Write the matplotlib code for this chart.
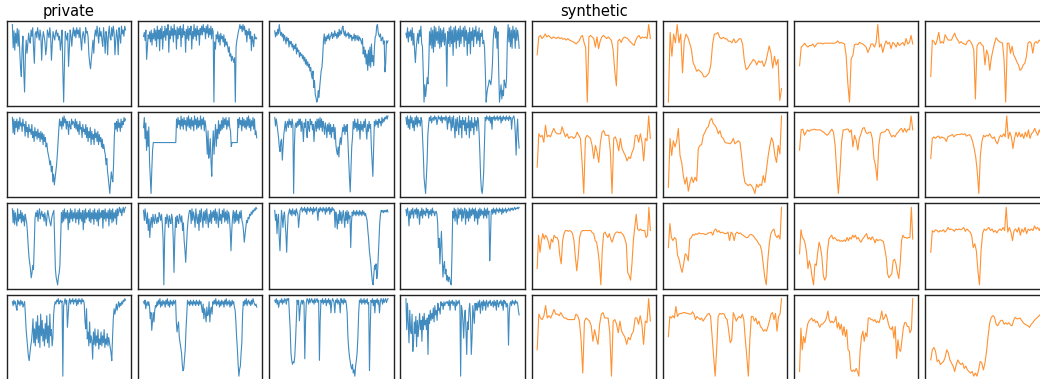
import matplotlib
matplotlib.use("Agg")
import matplotlib.pyplot as plt

# ---- data (0 = panel minimum, 100 = panel maximum) ----
# private series (blue), rows 1-4, columns 1-4
p_r1c1 = [100,70,92,67,89,76,95,72,93,67,45,33,70,85,40,13,60,80,63,75,89,80,76,93,85,96,70,50,88,91,83,96,88,80,93,85,54,80,91,85,78,61,70,93,88,83,96,85,54,75,91,85,80,89,93,85,89,80,85,67,78,93,40,0,50,91,85,80,89,46,70,93,85,72,88,96,85,93,83,96,88,93,83,96,80,67,85,91,85,76,96,89,91,84,61,50,43,55,67,80,63,85,93,85,98,88,76,96,85,91,80,72,96,83,63,91,84,61,88,98,83,80,96,85,98,89,61,80,93,84,61,96,85,76,98,88,93,85,98,93]
p_r1c2 = [83,88,78,91,54,70,85,80,89,76,91,72,87,80,93,78,91,70,96,80,91,65,93,80,96,67,89,82,96,78,93,85,98,63,90,80,96,84,93,76,98,85,91,67,95,80,93,85,96,70,93,82,98,85,89,63,92,80,96,78,93,85,96,67,89,80,98,83,93,78,96,85,91,72,93,85,96,85,98,89,93,80,96,87,98,82,93,85,96,80,93,89,0,76,67,85,80,89,76,85,72,87,80,83,76,85,70,80,72,76,70,63,70,58,61,52,58,54,50,56,0,70,78,83,89,93,98,93,96,89,98,91,96,85,91,76,89,85,93,80,89,65,83,78,70,86,80,82,80]
p_r1c3 = [92,84,90,86,94,88,100,92,86,90,84,88,79,86,82,75,84,79,82,71,79,75,78,71,75,67,73,69,75,62,70,65,67,58,64,60,62,56,60,53,58,49,55,47,52,45,49,40,45,35,30,40,19,28,10,6,0,2,15,6,20,30,41,45,60,79,88,75,84,79,86,82,88,80,84,86,90,82,88,84,92,86,88,82,90,84,94,86,92,88,96,98,90,86,92,84,88,86,90,82,88,84,86,79,84,82,88,79,86,84,80,86,79,84,82,79,75,82,62,71,58,67,49,62,41,67,47,71,45,75,52,60,47,71,84,86,98,100,90,86,84,88,79,82,84,75,79,39,50,79,76,79]
p_r1c4 = [89,83,96,78,91,85,93,80,96,74,89,67,52,70,80,89,76,93,85,98,76,72,40,2,24,9,20,33,25,50,91,74,96,70,93,65,98,72,96,80,91,76,98,70,95,72,93,78,96,74,89,80,22,91,76,96,72,98,76,93,61,96,78,98,70,93,80,95,72,98,76,93,85,96,72,98,80,93,61,90,76,96,63,91,80,96,72,93,85,98,76,91,80,96,72,89,85,93,76,80,70,40,2,13,20,24,30,28,24,33,50,80,93,98,83,96,70,91,40,2,13,24,6,17,10,30,24,20,33,80,100,78,96,72,93,70,98,83,93,70,96,80,93,85,70]
p_r2c1 = [98,78,96,76,93,85,96,80,93,83,98,87,91,80,96,87,89,74,93,80,85,72,89,80,83,76,89,72,80,67,85,74,80,70,83,72,78,67,80,70,78,63,76,67,72,60,65,55,50,45,37,42,28,35,15,25,11,20,28,37,50,67,83,96,87,93,83,98,87,100,91,96,83,93,89,76,93,87,83,96,89,93,91,85,96,83,93,80,89,76,93,83,85,72,89,80,83,76,89,72,85,67,80,72,85,63,80,70,76,63,83,72,78,67,80,63,76,67,72,60,70,58,63,55,50,37,45,28,20,10,0,15,28,20,15,37,72,91,83,93,80,96,85,91,80,96,85,93,89,98,93,96]
p_r2c2 = [84,97,70,90,55,80,60,85,40,20,0,30,55,65,65,65,65,65,65,65,65,65,65,65,65,65,65,65,65,65,65,65,65,65,65,65,65,65,65,65,65,65,65,65,95,84,97,88,93,82,99,86,95,82,97,88,93,80,97,86,99,84,95,82,97,86,93,80,99,88,95,82,97,84,93,86,99,82,95,88,97,80,93,86,71,50,80,45,54,70,40,22,60,80,50,71,88,60,82,70,93,76,88,80,93,82,97,84,95,88,97,82,93,86,97,84,80,60,65,65,65,65,65,65,65,65,95,84,97,88,93,80,97,86,95,84,93,82,97,86,99,84,95,80,93,86,97,82,95,75,80,71]
p_r2c3 = [98,87,96,89,80,72,60,54,67,70,43,60,76,85,93,80,89,93,85,96,89,93,85,96,89,0,60,87,91,85,93,87,96,89,96,80,93,85,67,91,85,96,80,72,93,85,80,96,89,93,82,89,67,85,93,80,96,84,96,82,98,85,96,80,93,87,76,91,85,72,89,80,91,76,89,72,85,80,89,70,85,63,55,50,60,47,65,72,63,75,85,80,89,76,87,80,89,65,40,20,2,30,60,72,93,83,96,85,91,80,96,82,89,70,93,82,89,80,93,85,96,82,70,89,80,93,84,89,60,40,22,60,93,87,95,89,93,85,96,91,93,87,98,91,96,93,98,96,100,96,100]
p_r2c4 = [97,88,99,84,95,82,99,90,97,84,93,80,97,88,99,85,97,90,93,86,97,93,70,50,20,10,0,20,40,75,88,97,93,99,90,95,97,93,99,95,97,88,93,99,95,97,93,99,90,97,95,97,93,99,95,82,97,90,99,93,80,97,84,99,86,71,95,80,97,88,75,99,84,93,71,97,88,93,80,97,75,90,84,99,71,93,80,97,84,90,75,97,86,93,80,97,93,75,50,20,5,0,10,27,60,97,93,99,95,97,93,99,90,97,82,97,95,99,93,97,95,99,93,97,95,99,90,97,93,99,95,97,93,99,95,97,93,99,95,97,82,95,97,99,93,75,49,80,95,70,58]
p_r3c1 = [98,80,96,78,93,85,76,98,82,91,85,96,80,93,82,89,76,91,85,80,67,50,36,28,20,9,15,25,20,50,85,93,88,96,82,93,98,85,91,95,88,91,82,93,86,76,89,96,90,84,80,76,85,90,93,96,60,21,10,5,0,10,15,25,60,93,80,96,82,98,85,93,86,96,71,93,80,98,85,96,82,93,86,98,80,93,85,96,78,98,85,93,82,96,71,96,80,98,85,93,87,96,82,98,80,93,85,96,78,98,85,93,82,96,76,98,85,93,87,96,73,96,85,98,82,93,86,96,76,98,85,96,80,98,82,93,86,96,78,98,89,96,100,93,98,89,96,100,93,98,100]
p_r3c2 = [96,83,98,87,79,93,70,85,61,80,87,74,91,83,79,91,85,79,87,81,93,89,83,91,79,60,0,60,87,79,91,85,74,89,83,79,91,85,60,16,60,87,74,89,83,79,91,87,81,89,70,80,57,45,29,50,70,83,91,96,96,79,98,83,94,87,74,98,86,79,91,70,96,81,98,87,74,94,83,96,79,98,86,74,91,81,96,79,94,87,96,83,98,79,94,86,74,98,83,91,79,96,87,98,81,94,83,96,79,94,87,70,44,70,87,96,79,94,81,96,83,91,79,94,86,96,83,79,70,55,65,74,83,80,87,85,91,89,94,91,96,94,98,96,100,98]
p_r3c3 = [96,83,91,66,85,91,60,44,70,96,88,74,89,94,80,65,42,70,90,94,98,91,96,89,98,93,91,96,89,98,94,91,74,85,96,98,100,94,98,96,100,94,98,91,100,96,98,94,100,96,98,91,100,94,98,96,100,94,83,98,94,100,96,98,94,100,96,98,91,100,94,98,96,100,91,98,94,100,96,98,96,74,94,85,72,91,79,96,83,94,79,89,96,85,74,94,83,96,79,94,85,89,48,80,94,89,96,91,94,89,96,91,94,89,96,91,94,89,96,91,94,89,92,87,83,70,60,45,36,27,15,5,0,12,25,20,27,8,15,36,60,80,91,96,94,96,93,96,94,96,94,97,94]
p_r3c4 = [97,89,99,93,76,95,86,97,91,99,86,95,97,91,99,86,97,93,78,95,89,99,86,97,91,95,89,99,93,97,86,95,91,97,89,99,93,95,89,93,95,91,80,48,60,27,50,69,40,10,24,30,14,20,6,12,4,10,8,2,0,40,95,86,99,82,97,89,78,99,86,97,91,99,82,97,86,95,99,78,97,86,95,82,99,86,97,89,99,91,97,82,99,86,95,78,97,86,99,89,97,91,95,86,99,89,97,86,99,91,95,31,60,95,97,91,99,93,97,91,99,95,97,93,99,95,97,91,99,93,97,95,99,93,97,95,99,97,95,99,97,99,96,98,100,97,99,98,100,98,100]
p_r4c1 = [96,91,98,93,96,89,85,98,93,96,91,98,93,96,89,93,96,80,60,48,35,25,20,30,39,45,57,74,43,61,39,70,48,78,43,65,37,80,52,72,45,61,39,68,48,78,43,65,37,80,52,60,39,50,80,91,96,93,98,96,100,93,96,98,95,97,0,90,96,100,93,98,63,80,96,100,93,98,96,100,93,98,96,100,91,98,93,100,96,98,93,100,96,98,93,70,61,87,48,57,39,70,43,52,45,22,57,41,61,39,52,43,60,35,48,41,57,39,52,43,60,37,48,41,55,39,50,43,35,30,20,50,74,87,80,85,93,85,91,96,89,94,91,96,93,98,96,100,98]
p_r4c2 = [96,93,98,87,93,96,91,96,90,74,82,59,70,82,70,85,91,89,96,91,98,93,100,89,96,91,98,93,96,89,98,93,100,91,96,89,98,93,96,91,98,93,96,98,70,57,65,70,50,43,35,30,15,7,10,22,35,60,80,98,93,96,91,98,93,96,91,98,93,96,91,98,93,96,91,98,93,96,89,82,93,74,87,80,70,89,78,80,96,70,85,89,80,96,93,98,93,100,91,96,93,98,89,96,91,98,93,96,89,98,93,100,91,96,93,98,89,96,91,98,93,96,89,85,70,50,35,15,0,9,13,30,43,80,96,91,98,93,100,91,96,98,93,96,91,98,93,100,96,93,91,93,89]
p_r4c3 = [96,93,98,91,96,87,93,96,93,98,91,96,93,98,96,91,98,96,98,80,60,30,20,15,18,17,25,45,70,96,91,96,70,85,93,96,91,96,93,22,70,93,98,96,91,98,93,96,98,93,96,91,98,93,96,98,93,96,20,70,96,93,98,91,96,93,98,89,96,93,98,91,96,80,93,98,96,93,80,96,93,98,91,96,93,80,98,93,96,91,98,93,96,91,80,50,35,25,18,12,9,15,4,8,0,13,20,30,50,80,96,93,98,91,96,93,98,91,96,93,98,91,93,7,60,96,93,98,89,96,80,96,93,98,91,96,80,93,98,96,91,98,93,96,98,93,96,98]
p_r4c4 = [100,60,94,70,43,85,60,55,80,32,45,70,55,77,38,72,51,65,81,60,72,45,77,60,81,66,72,60,75,28,79,68,85,72,81,74,88,70,91,79,85,72,94,85,88,80,96,91,94,86,96,91,94,96,94,96,91,98,85,96,94,98,91,96,94,85,98,91,96,94,98,91,0,91,85,70,49,77,85,60,28,70,60,85,94,75,28,50,91,80,68,94,85,94,85,96,89,98,81,94,96,85,98,91,96,85,98,94,89,96,94,98,91,94,96,89,98,91,96,85,98,94,89,96,94,98,91,96,85,98,94,96,89,94,91,40,80,94,96,91,98,94,96,92,98,94,96,94,85,79]

# synthetic series (orange), rows 1-4, columns 5-8
s_r1c5 = [61,84,86,82,84,88,84,86,84,82,84,83,82,84,82,83,81,82,80,82,80,79,78,77,75,77,79,84,86,77,70,0,84,86,84,82,71,84,69,79,84,86,84,82,84,82,79,67,40,21,79,81,77,82,84,83,82,79,77,75,73,80,84,86,82,84,83,84,82,100,82]
s_r1c6 = [2,90,60,88,77,100,77,88,39,79,88,84,77,69,52,47,41,43,41,39,34,34,36,39,49,75,88,88,90,84,82,84,82,82,79,79,77,82,77,79,82,82,75,54,43,45,49,52,56,54,49,54,52,54,47,52,62,73,64,45,60,49,56,4,19]
s_r1c7 = [47,71,73,76,73,71,73,73,75,71,74,76,76,76,75,76,76,76,76,76,76,76,77,79,76,77,76,75,60,24,0,56,60,74,75,74,77,76,75,73,71,64,69,75,75,71,77,100,71,75,64,73,79,75,77,69,77,75,71,77,73,75,77,73,82,75,77,86,75]
s_r1c8 = [33,80,78,74,80,90,76,78,76,87,83,80,80,80,85,89,83,80,76,78,76,75,74,78,80,78,74,67,4,72,76,77,74,72,48,67,61,41,57,67,76,83,80,78,77,76,54,0,76,76,63,72,61,57,52,48,41,43,48,50,59,76,78,76,63,76,78,76,80,78,83,100]
s_r2c5 = [34,77,73,75,66,88,73,75,73,79,84,79,77,77,77,86,79,73,77,71,73,73,71,73,79,75,71,40,0,71,75,73,71,62,45,62,53,40,66,79,81,75,75,75,53,0,71,73,66,55,71,58,53,49,42,47,45,53,58,75,75,66,77,66,42,71,68,100,71]
s_r2c6 = [8,71,49,68,60,68,84,49,40,23,12,21,3,14,21,14,21,16,58,62,63,75,79,84,86,94,97,90,88,84,77,81,73,71,66,65,65,64,66,71,64,66,68,66,49,27,14,12,10,12,10,6,0,12,8,12,10,23,14,32,49,62,72,66,49,40,62,51,100]
s_r2c7 = [56,82,83,75,79,82,80,82,82,83,82,82,82,82,80,79,77,75,77,80,83,79,62,28,0,28,67,82,82,83,83,79,82,60,75,69,56,71,77,84,85,79,77,79,79,71,45,36,17,62,77,79,79,80,83,82,77,73,75,73,77,79,82,84,79,84,79,83,82,100,82]
s_r2c8 = [45,71,73,71,73,74,71,73,72,71,67,73,74,75,76,73,75,76,76,76,77,76,77,74,75,76,73,67,58,47,28,0,49,67,75,73,75,74,77,73,71,73,67,64,71,75,73,77,73,100,71,79,73,58,71,79,73,79,73,77,71,79,73,82,71,77,79,84,79,75,82,77,84,100]
s_r3c5 = [21,64,42,57,66,59,64,61,55,46,59,55,64,61,61,57,38,27,57,66,70,70,69,70,69,66,57,36,18,36,61,68,70,70,70,70,70,70,70,67,66,57,55,44,27,0,44,66,68,64,61,66,59,55,61,66,68,68,67,68,66,64,59,53,16,12,6,27,57,74,91,72,70,72,70,70,70,61,64,100,70]
s_r3c6 = [48,79,61,57,61,59,38,33,23,16,27,40,38,31,59,61,65,64,66,65,67,66,66,66,65,65,67,67,68,64,70,72,68,70,67,68,67,66,66,68,57,68,66,57,66,68,66,67,65,64,62,61,61,64,65,64,62,59,57,53,51,44,27,10,0,31,53,66,70,72,64,61,64,59,100]
s_r3c7 = [40,71,61,59,53,42,21,31,23,10,0,27,25,42,55,48,36,12,6,10,44,59,62,64,59,61,59,57,58,56,57,56,58,56,61,57,61,59,64,61,64,59,61,57,55,59,61,64,66,59,61,58,62,59,54,59,57,58,58,57,56,46,36,14,9,12,14,31,33,27,16,8,27,57,64,61,61,60,61,61,100,59]
s_r3c8 = [42,70,68,71,70,68,70,69,71,68,70,74,71,72,71,69,72,71,72,71,72,74,69,72,70,68,64,48,53,44,18,0,44,66,72,70,72,74,70,72,68,70,67,70,72,70,74,70,100,68,74,68,57,70,72,68,74,64,72,68,74,66,72,70,72,70,76,72,74,70,75,72,100]
s_r4c5 = [34,80,75,73,78,91,75,78,75,80,86,80,80,78,82,78,75,75,73,73,73,73,73,80,78,71,47,4,71,75,73,71,65,45,60,50,41,67,80,82,75,75,75,56,0,71,73,67,56,71,58,54,50,41,50,47,54,58,75,75,67,78,67,41,71,69,100,71]
s_r4c6 = [51,77,75,78,75,90,77,80,81,81,82,82,81,81,80,80,83,80,73,77,75,73,75,71,74,77,80,81,77,51,25,0,34,77,81,80,81,80,75,73,58,43,47,82,77,71,75,77,75,80,73,47,25,0,47,77,77,71,75,67,71,64,62,58,60,58,64,71,80,82,73,81,58,77,80,100]
s_r4c7 = [6,62,34,51,43,56,67,71,73,75,71,73,69,71,67,63,67,67,69,71,75,84,73,69,71,69,71,77,62,69,60,67,53,64,51,60,34,32,8,6,8,6,10,6,0,34,51,58,45,56,51,75,75,73,73,71,73,69,71,69,75,84,73,75,80,75,67,62,60,64,49,64,23,47,34,32,47,62,69,69,64,64,56,60,100]
s_r4c8 = [21,34,37,32,19,21,15,17,19,24,34,30,21,17,13,6,15,21,17,15,17,10,13,8,6,4,6,0,4,0,8,19,17,8,17,32,52,69,76,78,76,67,65,69,72,72,67,69,67,69,66,65,72,76,74,74,75,72,69,67,66,65,63,67,69,72,74,76,78,80,82,100]

group_titles = ["private", "synthetic"]

private_rows = [
    [p_r1c1, p_r1c2, p_r1c3, p_r1c4],
    [p_r2c1, p_r2c2, p_r2c3, p_r2c4],
    [p_r3c1, p_r3c2, p_r3c3, p_r3c4],
    [p_r4c1, p_r4c2, p_r4c3, p_r4c4],
]
synthetic_rows = [
    [s_r1c5, s_r1c6, s_r1c7, s_r1c8],
    [s_r2c5, s_r2c6, s_r2c7, s_r2c8],
    [s_r3c5, s_r3c6, s_r3c7, s_r3c8],
    [s_r4c5, s_r4c6, s_r4c7, s_r4c8],
]

# ---- layout (pixels of the 1040x379 canvas) ----
W, H = 1040, 379
col_left0, col_pitch, ax_w = 6.7, 131.2, 124.5
row_top0, row_pitch, ax_h = 20.7, 91.35, 85.3

fig = plt.figure(figsize=(W / 100, H / 100), dpi=100)

axes = {}
for r in range(4):
    for c in range(8):
        L = col_left0 + c * col_pitch
        T = row_top0 + r * row_pitch
        ax = fig.add_axes([L / W, 1 - (T + ax_h) / H, ax_w / W, ax_h / H])
        if c < 4:
            y = private_rows[r][c]
            ax.plot(range(len(y)), y, color="#1f77b4", lw=0.8, alpha=0.85)
        else:
            y = synthetic_rows[r][c - 4]
            ax.plot(range(len(y)), y, color="#ff7f0e", lw=0.8, alpha=0.85)
        ax.set_xticks([])
        ax.set_yticks([])
        for s in ax.spines.values():
            s.set_linewidth(1.0)
            s.set_color("#222222")
        axes[(r, c)] = ax

axes[(0, 0)].set_title(group_titles[0], fontsize=10.5, pad=3.5)
axes[(0, 4)].set_title(group_titles[1], fontsize=10.5, pad=3.5)

fig.savefig("out.png", dpi=100)
